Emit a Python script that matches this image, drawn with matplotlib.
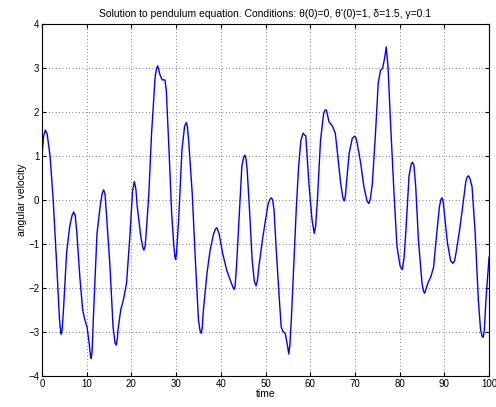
import matplotlib
matplotlib.use("Agg")
import matplotlib.pyplot as plt

# values
time = [0, 0.35, 0.75, 1.15, 1.8, 2.5, 3.3, 3.9, 4.15, 4.3, 4.5, 4.8, 5.5, 6.2, 6.7, 7.1, 7.45,
        7.8, 8.5, 9.1, 9.6, 10.1, 10.6, 10.85, 11.0, 11.2, 11.5, 12.3, 13.0, 13.45, 13.8, 14.1,
        14.4, 15.2, 15.9, 16.35, 16.6, 16.85, 17.0, 17.6, 18.2, 18.9, 19.7, 20.25, 20.65, 21.0,
        21.3, 22.1, 22.55, 22.8, 23.05, 23.3, 23.9, 24.5, 25.3, 25.6, 25.85, 26.1, 26.4, 26.9, 27.5, 27.8,
        28.4, 29.0, 29.5, 29.75, 29.9, 30.1, 30.6, 31.3, 31.9, 32.3, 32.5,
        32.8, 33.6, 34.3, 35.0, 35.35, 35.6, 35.85, 36.1, 36.9, 37.6, 38.4, 38.8, 39.1,
        39.6, 40.4, 41.3, 42.1, 42.7, 43.0, 43.2, 43.5, 44.1, 44.7, 45.1, 45.4, 45.65,
        45.9, 46.5, 47.0, 47.5, 47.9, 48.2, 48.5, 49.3, 50.0, 50.6, 51.0, 51.3, 51.6,
        51.9, 52.4, 53.0, 53.5, 53.9, 54.4, 54.9, 55.2, 55.45, 55.8, 56.3, 56.9, 57.4, 57.9, 58.4, 58.7,
        59.0, 59.7, 60.4, 60.9, 61.2, 61.6, 62.3, 63.0, 63.3, 63.6,
        64.2, 65.0, 65.6, 66.1, 66.8, 67.3, 67.6, 67.85, 68.1, 68.7, 69.4, 69.9, 70.2,
        70.5, 71.3, 72.0, 72.7, 73.1, 73.45, 73.9, 74.6, 75.2, 75.7, 76.2, 76.7, 77.0,
        77.4, 77.9, 78.7, 79.4, 80.1, 80.6, 81.0, 81.4, 82.1, 82.6, 82.9, 83.2,
        83.6, 84.2, 85.0, 85.35, 85.6, 85.9, 86.3, 87.0, 87.6, 88.3, 88.9, 89.25, 89.5, 89.75,
        90.0, 90.7, 91.4, 91.9, 92.3, 92.6, 93.3, 94.1, 94.8, 95.1, 95.4, 95.75,
        96.2, 96.9, 97.6, 98.1, 98.45, 98.7, 98.95, 99.3, 100.0]
ang_vel = [1.0, 1.45, 1.59, 1.5, 1.0, 0.0, -1.5, -2.7, -2.97, -3.05, -2.95, -2.5, -1.2, -0.6, -0.36, -0.27, -0.36,
           -0.76, -1.8, -2.5, -2.73, -2.9, -3.3, -3.55, -3.6, -3.45, -2.65, -0.76, -0.15, 0.15, 0.23, 0.13,
           -0.3, -1.5, -2.9, -3.25, -3.3, -3.15, -2.95, -2.5, -2.27, -1.9, -0.76, 0.2, 0.42, 0.25,
           -0.15, -0.83, -1.08, -1.14, -1.06, -0.76, 0.15, 1.5, 2.8, 2.98, 3.05, 2.97, 2.84, 2.73, 2.73, 2.5,
           1.14, -0.3, -1.06, -1.3, -1.35, -1.2, -0.38, 1.14, 1.68, 1.76, 1.68,
           1.36, 0.15, -1.36, -2.73, -2.97, -3.03, -2.9, -2.5, -1.67, -1.14, -0.76, -0.66, -0.63,
           -0.76, -1.21, -1.59, -1.82, -1.98, -2.03, -1.95, -1.52, -0.38, 0.76, 0.97, 1.02, 0.92,
           0.68, -0.38, -1.36, -1.85, -1.95, -1.82, -1.52, -0.91, -0.45, -0.08, 0.02, 0.05, 0.0,
           -0.23, -1.14, -2.12, -2.88, -2.99, -3.03, -3.3, -3.5, -3.3, -2.65, -1.52, -0.15, 0.76, 1.35, 1.52, 1.48,
           1.46, 0.38, -0.45, -0.76, -0.6, 0.0, 1.36, 1.97, 2.04, 2.05,
           1.78, 1.67, 1.52, 1.06, 0.38, 0.05, -0.02, 0.08, 0.38, 1.06, 1.4, 1.45, 1.42,
           1.29, 0.83, 0.3, -0.02, -0.08, 0.02, 0.38, 1.52, 2.65, 2.94, 3.0, 3.26, 3.48,
           3.03, 1.89, 0.23, -1.06, -1.5, -1.58, -1.3, -0.7, 0.55, 0.82, 0.86, 0.78,
           0.3, -0.91, -1.89, -2.08, -2.12, -2.02, -1.89, -1.74, -1.52, -0.76, -0.15, 0.02, 0.05, -0.05,
           -0.3, -0.98, -1.38, -1.44, -1.38, -1.21, -0.76, -0.15, 0.42, 0.52, 0.55, 0.48,
           0.3, -0.76, -2.27, -2.95, -3.1, -3.12, -2.95, -2.27, -1.3]

yticks = [-4, -3, -2, -1, 0, 1, 2, 3, 4]
xticks = [0, 10, 20, 30, 40, 50, 60, 70, 80, 90, 100]

plt.rcParams['font.family'] = ['Liberation Sans', 'DejaVu Sans']

fig = plt.figure(figsize=(4.96, 4.07), dpi=100)
ax = fig.add_axes([0.0847, 0.0762, 0.9013, 0.8648])

ax.plot(time, ang_vel, color=(0, 0, 1), linewidth=1.0)

ax.set_xlim(0, 100)
ax.set_ylim(-4, 4)
ax.set_xticks(xticks)
ax.set_yticks(yticks)
ax.set_yticklabels(['\u22124', '\u22123', '\u22122', '\u22121', '0', '1', '2', '3', '4'])
ax.tick_params(direction='in', labelsize=7, length=3, top=True, right=True, pad=2)
ax.grid(True, linestyle=(0, (1, 3)), color='#555555', linewidth=0.6)
for s in ax.spines.values():
    s.set_linewidth(0.8)

ax.set_xlabel('time', fontsize=7.5, labelpad=0)
ax.set_ylabel('angular velocity', fontsize=7.5, labelpad=1)
ax.set_title("Solution to pendulum equation. Conditions: \u03b8(0)=0, \u03b8'(0)=1, \u03b4=1.5, \u03b3=0.1",
             fontsize=7.5, pad=5)

fig.savefig('out.png', dpi=100)
